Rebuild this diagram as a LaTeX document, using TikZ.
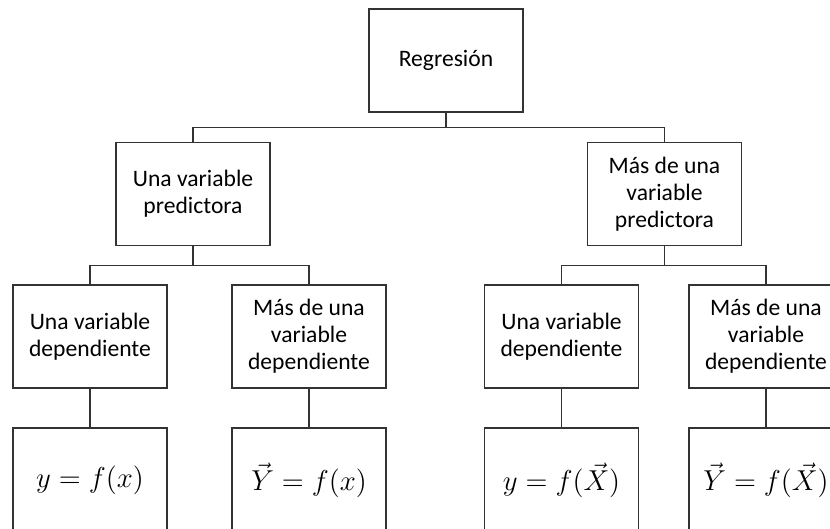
\documentclass[tikz,border=0pt]{standalone}
\usepackage{amsmath}
\usepackage{fontspec}
\setmainfont{Carlito}
\usepackage{tikz}
\usetikzlibrary{calc}

\begin{document}
\begin{tikzpicture}[x=0.5pt,y=-0.5pt,
  caja/.style={draw=black!80,line width=0.6pt,align=center,minimum width=77pt,minimum height=51.5pt,inner sep=2pt,font=\fontsize{11.8}{13.5}\selectfont},
  ecua/.style={caja,minimum height=52pt,font=\fontsize{13.5}{15}\selectfont},
  rama/.style={draw=black!80,line width=0.6pt}]
\useasboundingbox (0,0) rectangle (830,529);
\clip (0,0) rectangle (830,529);
\node[caja] (reg) at (446,60.5) {Regresión};
\node[caja] (pred1) at (193,194) {Una variable\\predictora};
\node[caja] (pred2) at (664.5,194) {Más de una\\variable\\predictora};
\foreach \n/\x/\t in %
{1/90/{Una variable\\dependiente},2/309/{Más de una\\variable\\dependiente},3/561.5/{Una variable\\dependiente},4/766/{Más de una\\variable\\dependiente}} {
   \node[caja] (dep\n) at (\x,336.5) {\t};
}
\foreach \n/\x/\e in %
{1/90/{y=f(x)},2/309/{\vec{Y}=f(x)},3/561.5/{y=f(\vec{X})},4/766/{\vec{Y}=f(\vec{X})}} {
   \node[ecua] (ec\n) at (\x,480) {$\e$};
   \draw[rama] (dep\n) -- (ec\n);
}
% ramas del arbol
\coordinate (b0) at ($(reg.south)!.5!(reg.south|-pred1.north)$);
\coordinate (b1) at ($(pred1.south)!.5!(pred1.south|-dep1.north)$);
\coordinate (b2) at ($(pred2.south)!.5!(pred2.south|-dep3.north)$);
\draw[rama] (reg.south) -- (b0) -| (pred1.north) (b0) -| (pred2.north);
\draw[rama] (pred1.south) -- (b1) -| (dep1.north) (b1) -| (dep2.north);
\draw[rama] (pred2.south) -- (b2) -| (dep3.north) (b2) -| (dep4.north);
\end{tikzpicture}
\end{document}
